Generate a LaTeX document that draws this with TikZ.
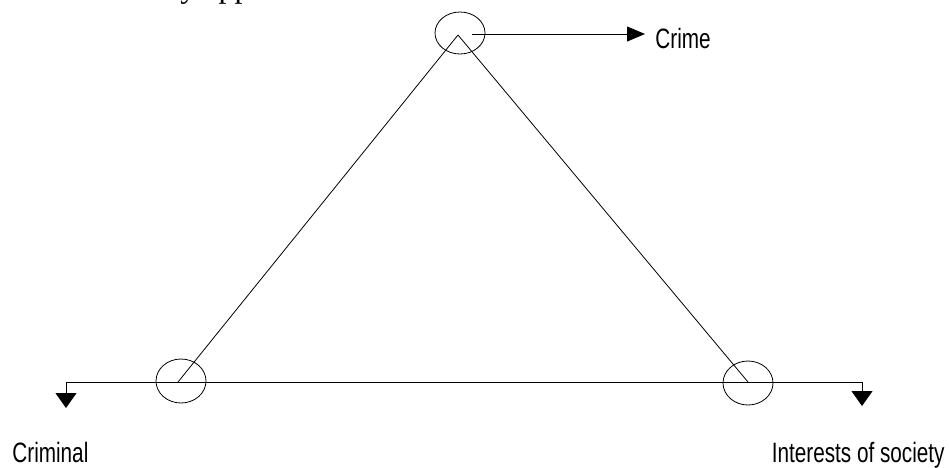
\documentclass[tikz,border=0pt]{standalone}
\usepackage{fontspec}
\newfontfamily\narrowsf{Liberation Sans}[FakeStretch=0.74]
\newfontfamily\bodyserif{Liberation Serif}
\usetikzlibrary{positioning,calc,arrows.meta,shapes.geometric}
\tikzset{ring/.style={draw,ellipse,minimum width=50pt,minimum height=42pt,inner sep=0pt,line width=0.8pt}  }
\tikzset{lbl/.style={font=\narrowsf\fontsize{28}{30}\selectfont,inner sep=0pt}  }
\tikzset{>={Triangle[length=15pt,width=21pt]}}
\begin{document}
\begin{tikzpicture}[x=1pt,y=-1pt,line width=0.8pt]
	\useasboundingbox (0,0) rectangle (949,467);
		\coordinate (crimeV) at (458,35);
			\coordinate (criminalV) at (178,382);
			\coordinate (societyV) at (748,382);
			\coordinate (crimeEnd) at (645,34);
			\coordinate (criminalEnd) at (66,408);
			\coordinate (societyEnd) at (862,406);

			\node[ring] (crimeR) at (460,33) {};
			\node[ring,minimum height=44pt] (criminalR) at (181,381) {};
			\node[ring,minimum height=44pt] (societyR) at (748,383) {};

			\draw[-]
				  (criminalV) edge (crimeV) edge (societyV)
				  (crimeV) edge (societyV)
				;
			\draw[-{Triangle[length=18pt,width=15pt]}] (472,34) -- (crimeEnd);
			\draw[->] (criminalV) -| (criminalEnd);
			\draw[->] (societyV) -| (societyEnd);

				\node[lbl,anchor=base west] (crime) at (655,48) {Crime};
				\node[lbl,anchor=base west] (criminal) at (12,462) {Criminal};
				\node[lbl,anchor=base east] (society) at (945,462) {Interests of society};
				\node[font=\bodyserif\fontsize{32}{34}\selectfont,anchor=base west,inner sep=0pt] (cut) at (180,-3) {y app};
	\end{tikzpicture}
\end{document}
